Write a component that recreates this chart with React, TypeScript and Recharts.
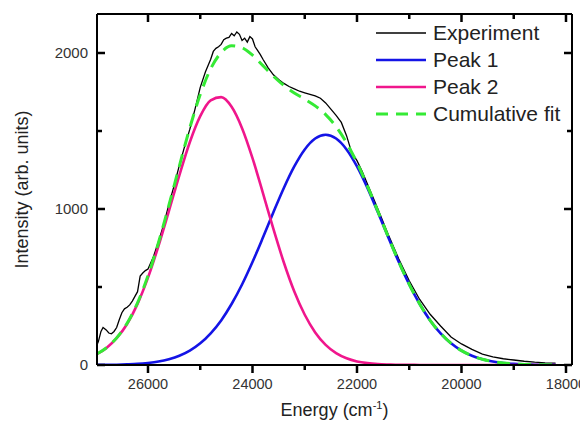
import { LineChart, Line, XAxis, YAxis, Legend } from "recharts";

const FONT = '"Liberation Sans", Arial, sans-serif';

// fit curves, sampled every 200 cm-1 from 27000 down to 18200
const fitEnergy = [
  27000, 26800, 26600, 26400, 26200, 26000, 25800, 25600, 25400, 25200, 25000,
  24800, 24600, 24400, 24200, 24000, 23800, 23600, 23400, 23200, 23000, 22800,
  22600, 22400, 22200, 22000, 21800, 21600, 21400, 21200, 21000, 20800, 20600,
  20400, 20200, 20000, 19800, 19600, 19400, 19200, 19000, 18800, 18600, 18400,
  18200,
];
const peak1 = [
  1, 1, 2, 4, 7, 13, 22, 37, 59, 92, 139, 203, 286, 391, 516, 660, 817, 979,
  1135, 1273, 1382, 1452, 1476, 1452, 1382, 1273, 1135, 979, 817, 660, 516, 391,
  286, 203, 139, 92, 59, 37, 22, 13, 7, 4, 2, 1, 1,
];
const peak2 = [
  66, 108, 172, 263, 392, 560, 762, 987, 1216, 1428, 1595, 1696, 1717, 1655,
  1518, 1326, 1102, 872, 657, 471, 322, 209, 129, 76, 43, 23, 12, 6, 3, 1, 1, 0,
  0, 0, 0, 0, 0, 0, 0, 0, 0, 0, 0, 0, 0,
];
const cumulative = [
  67, 109, 174, 267, 399, 573, 784, 1024, 1275, 1520, 1734, 1899, 2003, 2046,
  2034, 1986, 1919, 1851, 1792, 1744, 1704, 1661, 1605, 1528, 1425, 1296, 1147,
  985, 820, 661, 517, 391, 286, 203, 139, 92, 59, 37, 22, 13, 7, 4, 2, 1, 1,
];

// measured spectrum
const expEnergy = [
  27000, 26950, 26900, 26860, 26800, 26750, 26700, 26650, 26600, 26550, 26500,
  26450, 26400, 26350, 26300, 26250, 26200, 26150, 26100, 26050, 26000, 25900,
  25800, 25700, 25600, 25500, 25400, 25300, 25200, 25100, 25000, 24900, 24800,
  24750, 24700, 24650, 24600, 24550, 24500, 24450, 24400, 24350, 24300, 24250,
  24200, 24150, 24100, 24050, 24000, 23950, 23900, 23850, 23800, 23700, 23600,
  23500, 23400, 23300, 23200, 23100, 23000, 22900, 22800, 22700, 22600, 22500,
  22400, 22300, 22200, 22100, 22000, 21900, 21800, 21600, 21400, 21200, 21000,
  20800, 20600, 20400, 20200, 20000, 19800, 19600, 19400, 19200, 19000, 18800,
  18600, 18400, 18200,
];
const expIntensity = [
  110, 150, 215, 240, 225, 205, 200, 215, 240, 290, 335, 360, 370, 385, 410,
  440, 470, 570, 590, 605, 615, 690, 790, 900, 1030, 1150, 1280, 1400, 1510,
  1640, 1780, 1880, 1960, 2010, 2030, 2040, 2055, 2085, 2095, 2100, 2125, 2110,
  2135, 2120, 2080, 2095, 2070, 2105, 2090, 2040, 2015, 1990, 1960, 1905, 1860,
  1830, 1805, 1785, 1770, 1755, 1745, 1735, 1725, 1710, 1680, 1640, 1600, 1555,
  1470, 1360, 1310, 1240, 1160, 1000, 835, 680, 540, 420, 325, 250, 180, 135,
  100, 70, 52, 40, 32, 24, 18, 14, 12,
];

const xTicks = [18000, 19000, 20000, 21000, 22000, 23000, 24000, 25000, 26000];
const yTicks = [0, 500, 1000, 1500, 2000];

const expData = expEnergy.map((e, i) => ({ e, v: expIntensity[i] }));
const peak1Data = fitEnergy.map((e, i) => ({ e, v: peak1[i] }));
const peak2Data = fitEnergy.map((e, i) => ({ e, v: peak2[i] }));
const cumData = fitEnergy.map((e, i) => ({ e, v: cumulative[i] }));

const legendItems = [
  { name: "Experiment", color: "#000000", w: 1.3, dash: undefined },
  { name: "Peak 1", color: "#1414e6", w: 2.6, dash: undefined },
  { name: "Peak 2", color: "#f0168c", w: 2.6, dash: undefined },
  { name: "Cumulative fit", color: "#35ea35", w: 3, dash: "12 8" },
];

// chart box: 580x419, margins top 5 / right 15, top axis 1px, right axis 1px,
// left axis 89px, bottom axis 62px -> plot is 475 x 351
const W = 580;
const H = 419;
const PLOT_W = 475;
const PLOT_H = 351;

const axisLine = { stroke: "#000", strokeWidth: 2 };
const TW = 2.5; // tick thickness

// bottom ticks point out, the mirrored top ticks point in
const BottomTick = (p: any) => {
  const major = p.payload.value % 2000 === 0;
  const len = major ? 8 : 5;
  return (
    <g>
      <rect x={p.x - TW / 2} y={p.y} width={TW} height={len} fill="#000" />
      <rect x={p.x - TW / 2} y={p.y - PLOT_H} width={TW} height={len} fill="#000" />
      {major && (
        <text x={p.x} y={p.y + 24} textAnchor="middle" fontSize={14.5} fontFamily={FONT} fill="#333">
          {p.payload.value}
        </text>
      )}
    </g>
  );
};

// left and right ticks both point into the plot
const LeftTick = (p: any) => {
  const major = p.payload.value % 1000 === 0;
  const len = major ? 8 : 5;
  return (
    <g>
      <rect x={p.x} y={p.y - TW / 2} width={len} height={TW} fill="#000" />
      <rect x={p.x + PLOT_W - len} y={p.y - TW / 2} width={len} height={TW} fill="#000" />
      {major && (
        <text x={p.x - 9} y={p.y + 5} textAnchor="end" fontSize={15} fontFamily={FONT} fill="#333">
          {p.payload.value}
        </text>
      )}
    </g>
  );
};

const renderLegend = () => (
  <div style={{ fontFamily: FONT, fontSize: 21, color: "#222" }}>
    {legendItems.map((it) => (
      <div key={it.name} style={{ display: "flex", alignItems: "center", height: 27 }}>
        <svg width={50} height={10} style={{ marginRight: 7 }}>
          <line x1={0} y1={5} x2={50} y2={5} stroke={it.color} strokeWidth={it.w} strokeDasharray={it.dash} />
        </svg>
        <span>{it.name}</span>
      </div>
    ))}
  </div>
);

const XTitle = (p: any) => {
  const vb = p.viewBox;
  return (
    <text x={vb.x + vb.width / 2} y={vb.y + 51} textAnchor="middle" fontSize={18} fontFamily={FONT} fill="#222">
      Energy (cm
      <tspan dy={-7} fontSize={11}>-1</tspan>
      <tspan dy={7}>)</tspan>
    </text>
  );
};

const YTitle = (p: any) => {
  const vb = p.viewBox;
  const cx = vb.x + 14;
  const cy = vb.y + vb.height / 2;
  return (
    <text x={cx} y={cy} transform={`rotate(-90 ${cx} ${cy})`} textAnchor="middle" dominantBaseline="central" fontSize={18} fontFamily={FONT} fill="#222">
      Intensity (arb. units)
    </text>
  );
};

const xDomain = [17885, 26976];
const yDomain = [0, 2250];

const App = () => {
  return (
    <LineChart width={W} height={H} margin={{ top: 5, right: 15, bottom: 0, left: 0 }} style={{ overflow: "visible" }}>
      <XAxis
        xAxisId="b"
        dataKey="e"
        type="number"
        domain={xDomain}
        reversed
        allowDataOverflow
        ticks={xTicks}
        interval={0}
        tickSize={0}
        tickMargin={0}
        tickLine={false}
        tick={BottomTick}
        axisLine={axisLine}
        height={62}
        label={XTitle}
      />
      <XAxis
        xAxisId="t"
        orientation="top"
        dataKey="e"
        type="number"
        domain={xDomain}
        reversed
        allowDataOverflow
        tickLine={false}
        tick={false}
        axisLine={axisLine}
        height={1}
      />
      <YAxis
        yAxisId="l"
        type="number"
        domain={yDomain}
        allowDataOverflow
        ticks={yTicks}
        interval={0}
        tickSize={0}
        tickMargin={0}
        tickLine={false}
        tick={LeftTick}
        axisLine={axisLine}
        width={89}
        label={YTitle}
      />
      <YAxis
        yAxisId="r"
        orientation="right"
        type="number"
        domain={yDomain}
        allowDataOverflow
        tickLine={false}
        tick={false}
        axisLine={axisLine}
        width={1}
      />
      <Legend
        layout="vertical"
        align="center"
        verticalAlign="middle"
        wrapperStyle={{ left: 368, top: 11, width: 210 }}
        content={renderLegend}
      />
      <Line xAxisId="b" yAxisId="l" data={expData} dataKey="v" name="Experiment" type="linear" stroke="#000" strokeWidth={1.3} dot={false} isAnimationActive={false} />
      <Line xAxisId="b" yAxisId="l" data={peak1Data} dataKey="v" name="Peak 1" type="monotone" stroke="#1414e6" strokeWidth={2.6} dot={false} isAnimationActive={false} />
      <Line xAxisId="b" yAxisId="l" data={peak2Data} dataKey="v" name="Peak 2" type="monotone" stroke="#f0168c" strokeWidth={2.6} dot={false} isAnimationActive={false} />
      <Line xAxisId="b" yAxisId="l" data={cumData} dataKey="v" name="Cumulative fit" type="monotone" stroke="#35ea35" strokeWidth={3} strokeDasharray="13 8" dot={false} isAnimationActive={false} />
    </LineChart>
  );
};

export default App;
